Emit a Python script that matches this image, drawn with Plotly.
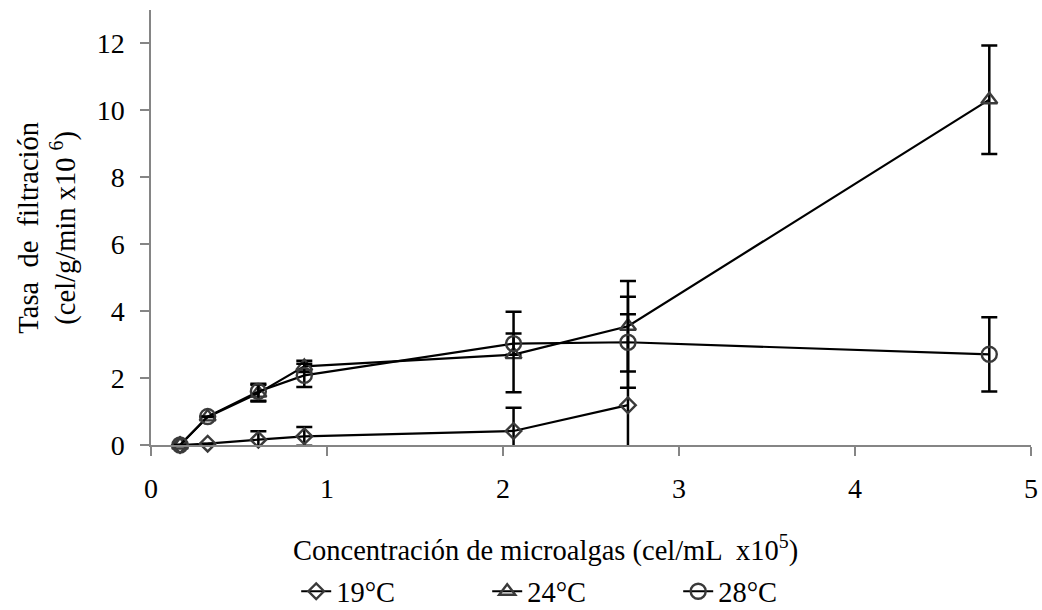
import plotly.graph_objects as go

# Concentración de microalgas (cel/mL x10^5)
conc = [0.165, 0.322, 0.61, 0.871, 2.06, 2.71, 4.763]

# Tasa de filtración (cel/g/min x10^6) por temperatura
t19 = [0.0, 0.04, 0.16, 0.26, 0.42, 1.19]
t19_err_up = [0.0, 0.0, 0.25, 0.28, 0.69, 2.72]
t19_err_down = [0.0, 0.0, 0.25, 0.28, 0.62, 1.40]

t24 = [0.0, 0.84, 1.55, 2.35, 2.70, 3.55, 10.32]
t24_err_up = [0.0, 0.0, 0.25, 0.17, 0.63, 1.35, 1.62]
t24_err_down = [0.0, 0.0, 0.25, 0.17, 0.0, 1.35, 1.62]

t28 = [0.0, 0.85, 1.60, 2.08, 3.03, 3.07, 2.71]
t28_err_up = [0.0, 0.0, 0.23, 0.35, 0.95, 1.36, 1.11]
t28_err_down = [0.0, 0.0, 0.28, 0.35, 1.45, 1.36, 1.11]

series = [
    ("19°C", t19, t19_err_up, t19_err_down, "diamond-open", 12),
    ("24°C", t24, t24_err_up, t24_err_down, "triangle-up-open", 14),
    ("28°C", t28, t28_err_up, t28_err_down, "circle-open", 15),
]

FONT = "Liberation Serif, Times New Roman, serif"
AXIS_GREY = "#858585"
TEXT_SIZE = 28.5
TICK_SIZE = 28

fig = go.Figure()
for name, vals, up, down, symbol, size in series:
    fig.add_trace(go.Scatter(
        x=conc[:len(vals)], y=vals, name=name, mode="lines+markers",
        line=dict(color="black", width=2.2),
        marker=dict(symbol=symbol, size=size, color="#3a3a3a",
                    line=dict(color="#3a3a3a", width=2.4)),
        error_y=dict(type="data", symmetric=False, array=up, arrayminus=down,
                     color="black", thickness=2.5, width=8),
        cliponaxis=False,
    ))

fig.update_layout(
    width=1042, height=610,
    margin=dict(l=151, r=11, t=10, b=165, autoexpand=False),
    paper_bgcolor="white", plot_bgcolor="white",
    font=dict(family=FONT, size=TEXT_SIZE, color="black"),
    showlegend=True,
    legend=dict(orientation="h", x=0.165, xanchor="left",
                yref="container", y=0.03, yanchor="middle",
                entrywidth=146, entrywidthmode="pixels",
                font=dict(family=FONT, size=TEXT_SIZE, color="black"),
                bgcolor="rgba(0,0,0,0)", itemclick=False,
                itemsizing="trace"),
    xaxis=dict(range=[0, 5], dtick=1, tick0=0, showgrid=False, zeroline=False,
               showline=True, linecolor=AXIS_GREY, linewidth=1.5,
               ticks="outside", ticklen=9, tickwidth=1.5, tickcolor=AXIS_GREY,
               tickfont=dict(family=FONT, size=TICK_SIZE, color="black"),
               ticklabelstandoff=9),
    yaxis=dict(range=[0, 13], tickvals=[0, 2, 4, 6, 8, 10, 12],
               showgrid=False, zeroline=False,
               showline=True, linecolor=AXIS_GREY, linewidth=1.5,
               ticks="outside", ticklen=9, tickwidth=1.5, tickcolor=AXIS_GREY,
               tickfont=dict(family=FONT, size=TICK_SIZE, color="black"),
               ticklabelstandoff=10),
    annotations=[
        dict(text="Concentración de microalgas (cel/mL  x10<sup>5</sup>)",
             xref="paper", yref="paper", x=0.448, y=-0.238,
             xanchor="center", yanchor="middle", showarrow=False,
             font=dict(family=FONT, size=TEXT_SIZE, color="black")),
        dict(text="Tasa  de  filtración<br>(cel/g/min x10 <sup>6</sup>)",
             xref="paper", yref="paper", x=-0.118, y=0.5,
             xanchor="center", yanchor="middle", showarrow=False,
             textangle=-90,
             font=dict(family=FONT, size=TEXT_SIZE, color="black")),
    ],
)

fig.write_html("out.html")
